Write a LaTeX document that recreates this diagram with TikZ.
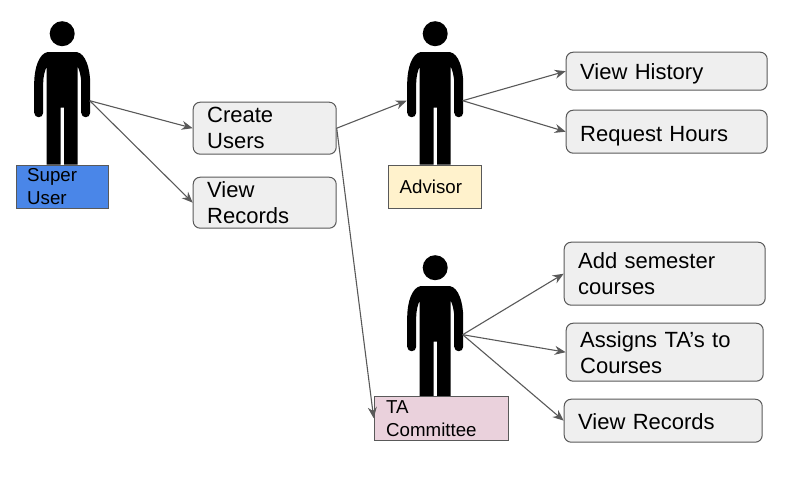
\documentclass[tikz,border=0pt]{standalone}
\usepackage{fontspec}
\setmainfont{Liberation Sans}
\usetikzlibrary{arrows.meta}
\definecolor{edgegray}{HTML}{595959}
\definecolor{boxfill}{HTML}{EFEFEF}
\definecolor{superblue}{HTML}{4A86E8}
\definecolor{advyellow}{HTML}{FFF2CC}
\definecolor{tapink}{HTML}{EAD1DC}
\tikzset{x=1pt,y=-1pt,
  actionbox/.style={draw=edgegray,fill=boxfill,rounded corners=7pt,line width=1pt,anchor=north west,inner sep=0pt,
    font=\fontsize{22}{26}\selectfont,align=left},
  rolebox/.style={draw=edgegray,line width=1pt,anchor=north west,inner sep=0pt,
    font=\fontsize{18.7}{23}\selectfont,align=left},
  oneline/.style={text height=#1,text depth=4pt},
  link/.style={draw=edgegray,line width=1.1pt,-{Stealth[length=11pt,width=9pt]}},
  person/.pic={
    \fill[black] (0,34) circle (12.5);
    \fill[black] (-15,52.5) -- (15,52.5) .. controls (23,54) and (28,68) .. (28,84) -- (28,113)
      .. controls (28,119) and (19,119) .. (19,113) -- (19,84) .. controls (19,76) and (17,70) .. (15.5,67)
      -- (15.5,165) -- (2,165) -- (2,108) -- (-1.5,108) -- (-1.5,165) -- (-15.5,165) -- (-15.5,67)
      .. controls (-17,70) and (-19,76) .. (-19,84) -- (-19,113) .. controls (-19,119) and (-28,119) .. (-28,113)
      -- (-28,84) .. controls (-28,68) and (-23,54) .. (-15,52.5) -- cycle;
  }
}
\newcommand{\actionnode}[7][]{\node[actionbox,minimum width=#5pt,minimum height=#6pt,text width=#5pt-28pt,#1] (#2) at (#3,#4) {#7};}
\begin{document}
\begin{tikzpicture}
\useasboundingbox (0.3,0.3) rectangle (799.3,476.3);
\pic at (62.5,0) {person};
\pic at (435.5,0) {person};
\pic at (435.5,234) {person};
\coordinate (superhand) at (90,101);
\coordinate (advhandL) at (407,101);
\coordinate (advhandR) at (463,101);
\coordinate (tahand) at (463,335);

\node[rolebox,fill=superblue,minimum width=92pt,minimum height=43pt,text width=70pt] (super) at (16,165) {Super\\User};
\node[rolebox,fill=advyellow,minimum width=93pt,minimum height=43pt,text width=70pt] (adv) at (388,165) {Advisor};
\node[rolebox,fill=tapink,minimum width=134pt,minimum height=44pt,text width=110pt] (ta) at (374,396) {TA\\Committee};

\actionnode{create}{193}{102}{143}{52}{Create\\Users}
\actionnode{viewrec}{193}{177}{143}{51}{View\\Records}
\actionnode[oneline=20pt]{history}{566}{52}{201}{38}{View History}
\actionnode[oneline=23pt]{hours}{566}{110}{201}{43}{Request Hours}
\actionnode{addsem}{564}{242}{201}{63}{Add semester\\courses}
\actionnode{assign}{566}{323}{197}{58}{Assigns TA’s to\\Courses}
\actionnode[oneline=21pt]{viewrec2}{564}{399}{198}{43}{View Records}

\draw[link] (superhand) -- (create.west);
\draw[link] (superhand) -- (viewrec.west);
\draw[link] (create.east) -- (advhandL);
\draw[link] (create.east) -- (ta.west);
\draw[link] (advhandR) -- (history.west);
\draw[link] (advhandR) -- (hours.west);
\draw[link] (tahand) -- (addsem.west);
\draw[link] (tahand) -- (assign.west);
\draw[link] (tahand) -- (viewrec2.west);
\end{tikzpicture}
\end{document}
